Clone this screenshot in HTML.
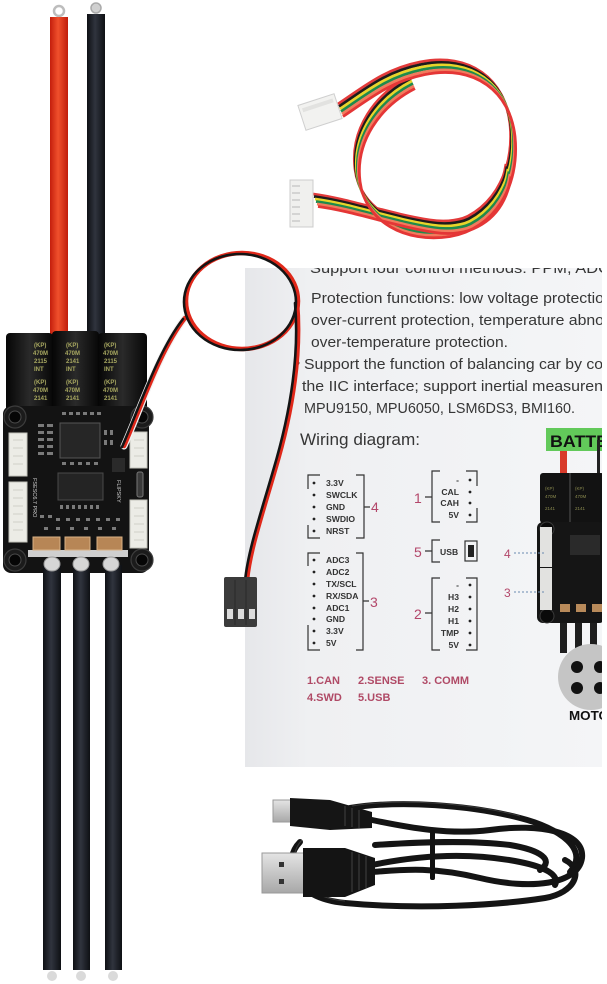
<!DOCTYPE html>
<html><head><meta charset="utf-8"><style>
html,body{margin:0;padding:0;background:#fff;}
svg{display:block;}
text{font-family:"Liberation Sans",sans-serif;}
</style></head><body>
<svg width="607" height="984" viewBox="0 0 607 984" xmlns="http://www.w3.org/2000/svg">
<defs>
<linearGradient id="card" x1="0" x2="1" y1="0" y2="0">
<stop offset="0" stop-color="#e6e7ea"/><stop offset="0.18" stop-color="#eff0f2"/><stop offset="1" stop-color="#f4f5f7"/>
</linearGradient>
<linearGradient id="redw" x1="0" x2="1"><stop offset="0" stop-color="#c41e0c"/><stop offset="0.45" stop-color="#f0502c"/><stop offset="1" stop-color="#c01c0a"/></linearGradient>
<linearGradient id="blkw" x1="0" x2="1"><stop offset="0" stop-color="#0e1014"/><stop offset="0.45" stop-color="#30343e"/><stop offset="1" stop-color="#0e1014"/></linearGradient>
<linearGradient id="cap" x1="0" x2="1"><stop offset="0" stop-color="#050505"/><stop offset="0.5" stop-color="#2a2a2a"/><stop offset="1" stop-color="#070707"/></linearGradient>
<linearGradient id="metal" x1="0" x2="0" y1="0" y2="1"><stop offset="0" stop-color="#e4e4e4"/><stop offset="1" stop-color="#a8a8a8"/></linearGradient>
<clipPath id="cardclip"><rect x="245" y="268" width="357" height="499"/></clipPath>
</defs>

<!-- ===== Top colored cable ===== -->
<g fill="none" stroke-width="2.8">
  <g transform="translate(0,-6)" stroke="#e23a3a"><path d="M338,110 C365,92 385,75 420,68 C470,58 505,85 510,130 C515,180 490,222 445,230 C400,237 360,215 355,175 C350,135 375,100 410,82"/><path d="M313,200 C350,205 390,220 430,226 C470,232 500,210 506,170"/></g>
  <g transform="translate(1,-3.5)" stroke="#1c1c1c"><path d="M338,110 C365,92 385,75 420,68 C470,58 505,85 510,130 C515,180 490,222 445,230 C400,237 360,215 355,175 C350,135 375,100 410,82"/><path d="M313,200 C350,205 390,220 430,226 C470,232 500,210 506,170"/></g>
  <g transform="translate(2,-1)" stroke="#e8d42a"><path d="M338,110 C365,92 385,75 420,68 C470,58 505,85 510,130 C515,180 490,222 445,230 C400,237 360,215 355,175 C350,135 375,100 410,82"/><path d="M313,200 C350,205 390,220 430,226 C470,232 500,210 506,170"/></g>
  <g transform="translate(3,1.5)" stroke="#1f8a4c"><path d="M338,110 C365,92 385,75 420,68 C470,58 505,85 510,130 C515,180 490,222 445,230 C400,237 360,215 355,175 C350,135 375,100 410,82"/><path d="M313,200 C350,205 390,220 430,226 C470,232 500,210 506,170"/></g>
  <g transform="translate(4,4)" stroke="#f27a5c"><path d="M338,110 C365,92 385,75 420,68 C470,58 505,85 510,130 C515,180 490,222 445,230 C400,237 360,215 355,175 C350,135 375,100 410,82"/><path d="M313,200 C350,205 390,220 430,226 C470,232 500,210 506,170"/></g>
  <g transform="translate(5,6.5)" stroke="#e43636"><path d="M338,110 C365,92 385,75 420,68 C470,58 505,85 510,130 C515,180 490,222 445,230 C400,237 360,215 355,175 C350,135 375,100 410,82"/><path d="M313,200 C350,205 390,220 430,226 C470,232 500,210 506,170"/></g>
</g>
<g transform="rotate(-18 320 112)"><rect x="301" y="99" width="38" height="26" fill="#f2f2f0" stroke="#cfcfcf"/><rect x="304" y="103" width="32" height="4" fill="#e2e2e0"/></g>
<rect x="290" y="180" width="23" height="47" fill="#f0f0ee" stroke="#cccccc"/>
<g stroke="#b8b8b8" stroke-width="1"><path d="M292,186 H300 M292,193 H300 M292,200 H300 M292,207 H300 M292,214 H300 M292,221 H300"/></g>

<!-- ===== Instruction card ===== -->
<rect x="245" y="268" width="357" height="499" fill="url(#card)"/>
<g clip-path="url(#cardclip)" fill="#363636">
  <text x="310" y="273" font-size="14.5" textLength="300" lengthAdjust="spacingAndGlyphs">Support four control methods: PPM, ADC</text>
  <text x="311" y="303" font-size="14.5" textLength="293" lengthAdjust="spacingAndGlyphs">Protection functions: low voltage protectio</text>
  <text x="311" y="325" font-size="14.5" textLength="293" lengthAdjust="spacingAndGlyphs">over-current protection, temperature abno</text>
  <text x="311" y="347" font-size="14.5" textLength="197" lengthAdjust="spacingAndGlyphs">over-temperature protection.</text>
  <text x="295" y="368" font-size="14.5">•</text>
  <text x="304" y="369" font-size="14.5" textLength="299" lengthAdjust="spacingAndGlyphs">Support the function of balancing car by co</text>
  <text x="302" y="391" font-size="14.5" textLength="301" lengthAdjust="spacingAndGlyphs">the IIC interface; support inertial measuren</text>
  <text x="304" y="413" font-size="14.5" textLength="271" lengthAdjust="spacingAndGlyphs">MPU9150, MPU6050, LSM6DS3, BMI160.</text>
  <text x="300" y="445" font-size="17" textLength="120" lengthAdjust="spacingAndGlyphs">Wiring diagram:</text>

  <g fill="none" stroke="#333" stroke-width="1.2">
    <path d="M320,475 H308 V489 M308,525 V538 H320"/>
    <path d="M356,475 H364 V538 H356 M364,507 H370"/>
    <path d="M320,553 H308 V566 M308,625 V650 H320"/>
    <path d="M356,553 H363 V650 H356 M363,601 H369"/>
    <path d="M466,471 H477 V486 M477,508 V522 H466"/>
    <path d="M440,471 H432 V522 H440 M425,497 H432"/>
    <path d="M440,540 H432 V562 H440 M425,551 H432"/>
    <rect x="465" y="541" width="12" height="20"/>
    <path d="M466,578 H477 V650 H466"/>
    <path d="M440,578 H432 V650 H440 M425,613 H432"/>
  </g>
  <rect x="468" y="545" width="6" height="12" fill="#222"/>
  <g fill="#222">
    <circle cx="314" cy="483" r="1.4"/><circle cx="314" cy="495" r="1.4"/><circle cx="314" cy="507" r="1.4"/><circle cx="314" cy="519" r="1.4"/><circle cx="314" cy="531" r="1.4"/>
    <circle cx="314" cy="560" r="1.4"/><circle cx="314" cy="572" r="1.4"/><circle cx="314" cy="584" r="1.4"/><circle cx="314" cy="596" r="1.4"/><circle cx="314" cy="608" r="1.4"/><circle cx="314" cy="619" r="1.4"/><circle cx="314" cy="631" r="1.4"/><circle cx="314" cy="643" r="1.4"/>
    <circle cx="470" cy="480" r="1.4"/><circle cx="470" cy="492" r="1.4"/><circle cx="470" cy="503" r="1.4"/><circle cx="470" cy="515" r="1.4"/>
    <circle cx="470" cy="585" r="1.4"/><circle cx="470" cy="597" r="1.4"/><circle cx="470" cy="609" r="1.4"/><circle cx="470" cy="621" r="1.4"/><circle cx="470" cy="633" r="1.4"/><circle cx="470" cy="645" r="1.4"/>
  </g>
  <g font-size="8.6" font-weight="bold" fill="#333">
    <text x="326" y="486">3.3V</text><text x="326" y="498">SWCLK</text><text x="326" y="510">GND</text><text x="326" y="522">SWDIO</text><text x="326" y="534">NRST</text>
    <text x="326" y="563">ADC3</text><text x="326" y="575">ADC2</text><text x="326" y="587">TX/SCL</text><text x="326" y="599">RX/SDA</text><text x="326" y="611">ADC1</text><text x="326" y="622">GND</text><text x="326" y="634">3.3V</text><text x="326" y="646">5V</text>
    <g text-anchor="end"><text x="459" y="483">-</text><text x="459" y="495">CAL</text><text x="459" y="506">CAH</text><text x="459" y="518">5V</text>
    <text x="459" y="588">-</text><text x="459" y="600">H3</text><text x="459" y="612">H2</text><text x="459" y="624">H1</text><text x="459" y="636">TMP</text><text x="459" y="648">5V</text></g>
    <text x="440" y="555">USB</text>
  </g>
  <g font-size="14" fill="#b3476a">
    <text x="371" y="512">4</text><text x="370" y="607">3</text><text x="414" y="503">1</text><text x="414" y="557">5</text><text x="414" y="619">2</text>
  </g>
  <g font-size="11" font-weight="bold" fill="#b04a66">
    <text x="307" y="684">1.CAN</text><text x="358" y="684">2.SENSE</text><text x="422" y="684">3. COMM</text>
    <text x="307" y="701">4.SWD</text><text x="358" y="701">5.USB</text>
  </g>

  <rect x="546" y="428" width="62" height="23" fill="#62c95a"/>
  <text x="550" y="447" font-size="17" font-weight="bold" fill="#111" textLength="58" lengthAdjust="spacingAndGlyphs">BATTE</text>
  <rect x="560" y="451" width="7" height="24" fill="#d83a2a"/>
  <rect x="597" y="440" width="3" height="35" fill="#222"/>
  <rect x="540" y="473" width="64" height="50" rx="3" fill="#121212"/>
  <rect x="569" y="473" width="2" height="50" fill="#333"/>
  <g font-size="4.5" fill="#8c8c50"><text x="545" y="490">(KP)</text><text x="545" y="498">470M</text><text x="575" y="490">(KP)</text><text x="575" y="498">470M</text><text x="545" y="510">2141</text><text x="575" y="510">2141</text></g>
  <rect x="537" y="522" width="68" height="101" rx="6" fill="#151515"/>
  <circle cx="547" cy="529" r="7" fill="#0a0a0a" stroke="#3a3a3a"/>
  <circle cx="547" cy="616" r="7" fill="#0a0a0a" stroke="#3a3a3a"/>
  <rect x="540" y="527" width="12" height="40" fill="#e2e2e0"/>
  <rect x="540" y="568" width="12" height="42" fill="#e2e2e0"/>
  <rect x="570" y="535" width="30" height="20" fill="#2a2a2a"/>
  <rect x="560" y="604" width="10" height="8" fill="#b88a5a"/><rect x="576" y="604" width="10" height="8" fill="#b88a5a"/><rect x="592" y="604" width="10" height="8" fill="#b88a5a"/>
  <g stroke="#6a8ab0" stroke-width="1" stroke-dasharray="2,2"><path d="M514,553 H546"/><path d="M514,592 H546"/></g>
  <g font-size="12" fill="#b3476a"><text x="504" y="558">4</text><text x="504" y="597">3</text></g>
  <rect x="560" y="623" width="7" height="30" fill="#1e1e1e"/><rect x="575" y="623" width="7" height="30" fill="#1e1e1e"/><rect x="590" y="623" width="7" height="30" fill="#1e1e1e"/>
  <circle cx="591" cy="677" r="33" fill="#c5c5c5"/>
  <g fill="#111"><circle cx="577" cy="667" r="6"/><circle cx="600" cy="667" r="6"/><circle cx="577" cy="688" r="6"/><circle cx="600" cy="688" r="6"/></g>
  <text x="569" y="720" font-size="13" font-weight="bold" fill="#111" textLength="40" lengthAdjust="spacingAndGlyphs">MOTO</text>
</g>

<!-- ===== ESC power wires ===== -->
<circle cx="59" cy="11" r="5" fill="none" stroke="#bdbdbd" stroke-width="2.5"/>
<circle cx="96" cy="8" r="5" fill="#d0d0d0" stroke="#aaa" stroke-width="1.5"/>
<rect x="50" y="17" width="18" height="320" fill="url(#redw)"/>
<rect x="87" y="14" width="18" height="323" fill="url(#blkw)"/>

<rect x="6" y="333" width="47" height="80" rx="4" fill="url(#cap)"/>
<rect x="52" y="331" width="47" height="82" rx="4" fill="url(#cap)"/>
<rect x="98" y="333" width="49" height="80" rx="4" fill="url(#cap)"/>
<g font-size="6" fill="#a8a860" font-weight="bold">
  <text x="34" y="347">(KP)</text><text x="33" y="355">470M</text><text x="34" y="363">2115</text><text x="34" y="371">INT</text>
  <text x="34" y="384">(KP)</text><text x="33" y="392">470M</text><text x="34" y="400">2141</text>
  <text x="66" y="347">(KP)</text><text x="65" y="355">470M</text><text x="66" y="363">2141</text><text x="66" y="371">INT</text>
  <text x="66" y="384">(KP)</text><text x="65" y="392">470M</text><text x="66" y="400">2141</text>
  <text x="104" y="347">(KP)</text><text x="103" y="355">470M</text><text x="104" y="363">2115</text><text x="104" y="371">INT</text>
  <text x="104" y="384">(KP)</text><text x="103" y="392">470M</text><text x="104" y="400">2141</text>
</g>

<rect x="3" y="406" width="146" height="167" rx="8" fill="#131313"/>
<g fill="#1b1b1b" stroke="#3c3c3c" stroke-width="1.2">
  <circle cx="15" cy="417" r="11"/><circle cx="142" cy="417" r="11"/>
  <circle cx="15" cy="560" r="11"/><circle cx="142" cy="560" r="11"/>
</g>
<g fill="#060606" stroke="#4a4a4a" stroke-width="1">
  <circle cx="15" cy="417" r="6"/><circle cx="142" cy="417" r="6"/>
  <circle cx="15" cy="560" r="6"/><circle cx="142" cy="560" r="6"/>
</g>
<g fill="#ecece6" stroke="#c4c4bc" stroke-width="1">
  <rect x="9" y="433" width="18" height="43"/><rect x="9" y="482" width="18" height="60"/>
  <rect x="130" y="432" width="17" height="36"/><rect x="130" y="500" width="17" height="48"/>
</g>
<g stroke="#cfcfc8" stroke-width="1">
  <path d="M13,440 H23 M13,448 H23 M13,456 H23 M13,464 H23 M13,490 H23 M13,498 H23 M13,506 H23 M13,514 H23 M13,522 H23 M13,530 H23"/>
  <path d="M134,440 H144 M134,448 H144 M134,456 H144 M134,508 H144 M134,516 H144 M134,524 H144 M134,532 H144 M134,540 H144"/>
</g>
<rect x="137" y="472" width="6" height="25" rx="2" fill="#3a3a3a" stroke="#777"/>
<rect x="60" y="423" width="40" height="35" fill="#262626" stroke="#555" stroke-width="1"/>
<rect x="58" y="473" width="45" height="27" fill="#242424" stroke="#4a4a4a" stroke-width="1"/>
<rect x="112" y="458" width="13" height="14" fill="#2a2a2a"/>
<g fill="#7a7a7a">
  <rect x="62" y="412" width="4" height="3"/><rect x="69" y="412" width="4" height="3"/><rect x="76" y="412" width="4" height="3"/><rect x="83" y="412" width="4" height="3"/><rect x="90" y="412" width="4" height="3"/><rect x="97" y="412" width="4" height="3"/>
  <rect x="38" y="424" width="6" height="3"/><rect x="47" y="424" width="6" height="3"/><rect x="38" y="431" width="6" height="3"/><rect x="47" y="431" width="6" height="3"/><rect x="38" y="438" width="6" height="3"/><rect x="47" y="438" width="6" height="3"/><rect x="38" y="445" width="6" height="3"/><rect x="47" y="445" width="6" height="3"/><rect x="38" y="452" width="6" height="3"/><rect x="47" y="452" width="6" height="3"/>
  <rect x="104" y="430" width="3" height="5"/><rect x="110" y="430" width="3" height="5"/><rect x="104" y="440" width="3" height="5"/><rect x="110" y="440" width="3" height="5"/>
  <rect x="62" y="462" width="4" height="3"/><rect x="70" y="462" width="4" height="3"/><rect x="78" y="462" width="4" height="3"/><rect x="86" y="462" width="4" height="3"/><rect x="94" y="462" width="4" height="3"/>
  <rect x="60" y="505" width="3" height="4"/><rect x="66" y="505" width="3" height="4"/><rect x="72" y="505" width="3" height="4"/><rect x="78" y="505" width="3" height="4"/><rect x="84" y="505" width="3" height="4"/><rect x="90" y="505" width="3" height="4"/><rect x="96" y="505" width="3" height="4"/>
  <rect x="40" y="515" width="4" height="3"/><rect x="48" y="515" width="4" height="3"/><rect x="56" y="518" width="4" height="3"/><rect x="66" y="518" width="4" height="3"/><rect x="76" y="518" width="4" height="3"/><rect x="86" y="518" width="4" height="3"/><rect x="96" y="518" width="4" height="3"/><rect x="106" y="518" width="4" height="3"/><rect x="116" y="518" width="4" height="3"/>
  <rect x="44" y="527" width="4" height="3"/><rect x="56" y="527" width="4" height="3"/><rect x="70" y="527" width="4" height="3"/><rect x="84" y="527" width="4" height="3"/><rect x="98" y="527" width="4" height="3"/><rect x="112" y="527" width="4" height="3"/>
</g>
<g font-size="5.5" fill="#cfcfcf">
  <text transform="translate(33,478) rotate(90)">FSESC6.7 PRO</text>
  <text transform="translate(117,480) rotate(90)">FLIPSKY</text>
</g>
<rect x="28" y="550" width="100" height="7" fill="#cfcfcf"/>
<g fill="#b78656" stroke="#d9b285" stroke-width="1">
  <rect x="33" y="537" width="27" height="13"/><rect x="65" y="537" width="25" height="13"/><rect x="97" y="537" width="25" height="13"/>
</g>
<rect x="43" y="565" width="18" height="405" fill="url(#blkw)"/>
<rect x="73" y="565" width="17" height="405" fill="url(#blkw)"/>
<rect x="105" y="565" width="17" height="405" fill="url(#blkw)"/>
<g fill="#dadada"><ellipse cx="52" cy="976" rx="5" ry="5"/><ellipse cx="81" cy="976" rx="5" ry="5"/><ellipse cx="113" cy="976" rx="5" ry="5"/></g>
<g fill="#d6d6d6" stroke="#999" stroke-width="1">
  <ellipse cx="52" cy="564" rx="8" ry="7"/><ellipse cx="81" cy="564" rx="8" ry="7"/><ellipse cx="111" cy="564" rx="8" ry="7"/>
</g>

<!-- ===== signal wire ===== -->
<g fill="none" stroke-linecap="round">
  <path d="M124,446 C142,405 160,350 185,318" stroke="#f2f2f2" stroke-width="7"/>
  <g stroke="#e0281a" stroke-width="4.5">
    <path d="M124,446 C142,405 160,350 185,318"/>
    <ellipse cx="242" cy="301" rx="56" ry="48"/>
    <path d="M297,302 C302,360 290,420 275,470 C262,515 250,550 247,580"/>
  </g>
  <g stroke="#141414" stroke-width="2.6" transform="translate(-2,1)">
    <path d="M124,446 C142,405 160,350 185,318"/>
    <ellipse cx="242" cy="301" rx="56" ry="48"/>
    <path d="M297,302 C302,360 290,420 275,470 C262,515 250,550 247,580"/>
  </g>
</g>
<rect x="224" y="577" width="33" height="50" rx="2" fill="#3b3b3b"/>
<g stroke="#2a2a2a"><path d="M235,580 V625 M246,580 V625"/></g>
<g fill="#dcdcdc"><rect x="227" y="609" width="6" height="10"/><rect x="238" y="609" width="6" height="10"/><rect x="249" y="609" width="6" height="10"/></g>

<!-- ===== USB cable ===== -->
<g fill="none" stroke="#141414" stroke-width="6" stroke-linecap="round">
  <path d="M300,842 C282,860 290,898 345,903 C420,910 500,905 545,898 C575,893 585,870 565,860"/>
  <path d="M350,808 C400,800 470,805 520,818 C560,828 590,850 570,872"/>
  <path d="M372,820 C410,828 450,835 490,830 C540,823 585,832 582,858 C578,885 530,890 480,878 C430,866 400,870 372,872"/>
  <path d="M372,865 C420,855 470,852 520,862 C545,867 560,875 555,885"/>
  <path d="M375,845 C420,842 470,840 510,845 C540,850 555,860 540,870"/>
</g>
<g fill="none" stroke="#3a3a3a" stroke-width="1">
  <path d="M352,806 C400,798 470,803 520,816"/>
  <path d="M302,840 C285,858 292,896 345,901"/>
</g>
<rect x="430" y="830" width="5" height="50" rx="2" fill="#111"/>
<rect x="273" y="800" width="18" height="22" fill="url(#metal)" stroke="#999"/>
<path d="M290,798 L330,800 L372,812 L372,828 L330,830 L290,826 Z" fill="#151515"/>
<g stroke="#333" stroke-width="1.5"><path d="M345,806 V826 M352,808 V827 M359,810 V828"/></g>
<rect x="262" y="853" width="42" height="40" fill="url(#metal)" stroke="#999"/>
<rect x="279" y="862" width="5" height="5" fill="#333"/><rect x="279" y="879" width="5" height="5" fill="#333"/>
<path d="M303,848 L345,848 L375,858 L375,885 L345,897 L303,897 Z" fill="#141414"/>
<g stroke="#333" stroke-width="1.5"><path d="M352,852 V892 M359,854 V890 M366,856 V888"/></g>
</svg>
</body></html>
